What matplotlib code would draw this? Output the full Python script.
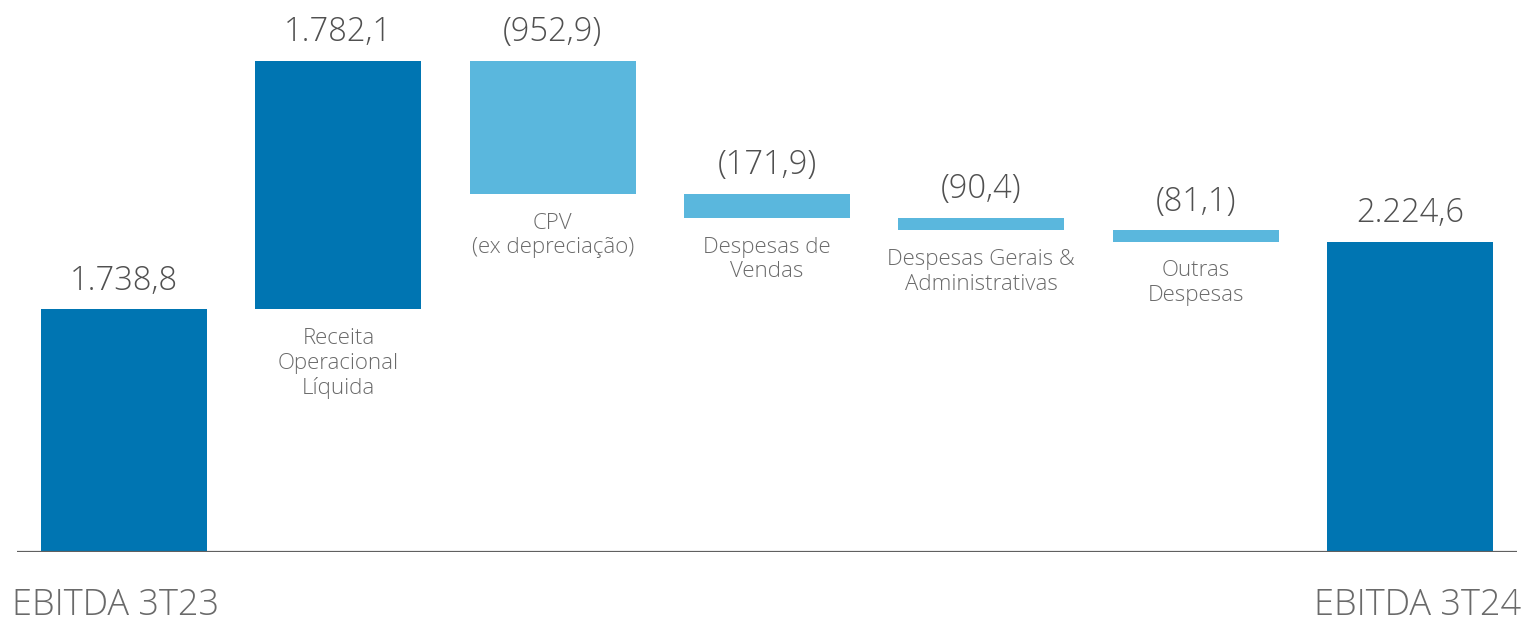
import numpy as np
import matplotlib
matplotlib.use("Agg")
import matplotlib.pyplot as plt

plt.rcParams['font.family'] = ['Open Sans', 'DejaVu Sans']

# waterfall data (R$ mi)
steps = ['EBITDA 3T23', 'Receita\nOperacional\nLíquida', 'CPV\n(ex depreciação)',
         'Despesas de\nVendas', 'Despesas Gerais &\nAdministrativas',
         'Outras\nDespesas', 'EBITDA 3T24']
values = [1738.8, 1782.1, -952.9, -171.9, -90.4, -81.1, 2224.6]
labels = ['1.738,8', '1.782,1', '(952,9)', '(171,9)', '(90,4)', '(81,1)', '2.224,6']
kinds = ['total', 'delta', 'delta', 'delta', 'delta', 'delta', 'total']

dark = '#0075B2'
light = '#5AB7DD'

fig = plt.figure(figsize=(15.26, 6.22), dpi=100)
ax = fig.add_axes([17 / 1526, 70 / 622, 1500 / 1526, 544 / 622])

level = 0.0
for i, (v, lab, kind, name) in enumerate(zip(values, labels, kinds, steps)):
    if kind == 'total':
        bottom, height = 0, v
        level = v
        col = dark
    else:
        bottom = level if v > 0 else level + v
        height = abs(v)
        col = dark if v > 0 else light
        level = level + v
    top = bottom + height
    ax.bar(i, height, bottom=bottom, width=0.775, color=col, zorder=2)
    ax.annotate(lab, (i, top), xytext=(0, 8.5), textcoords='offset points',
                ha='center', va='bottom', fontsize=23.5, color='#505050',
                fontweight='light')
    if kind == 'delta':
        ax.annotate(name, (i, bottom), xytext=(0, -13.5), textcoords='offset points',
                    ha='center', va='top', fontsize=16, color='#6a6a6a',
                    linespacing=1.22, fontweight='light')

ax.set_xlim(-0.5, 6.5)
ax.set_ylim(0, 3900)
ax.axhline(0, color='#606060', lw=1.6, zorder=3)
for s in ax.spines.values():
    s.set_visible(False)
ax.set_xticks([])
ax.set_yticks([])

fig.text(12 / 1526, 7 / 622, steps[0], ha='left', va='baseline', fontsize=26,
         color='#6a6a6a', fontweight='light')
fig.text(1521 / 1526, 7 / 622, steps[-1], ha='right', va='baseline', fontsize=26,
         color='#6a6a6a', fontweight='light')

fig.savefig('out.png', dpi=100)
